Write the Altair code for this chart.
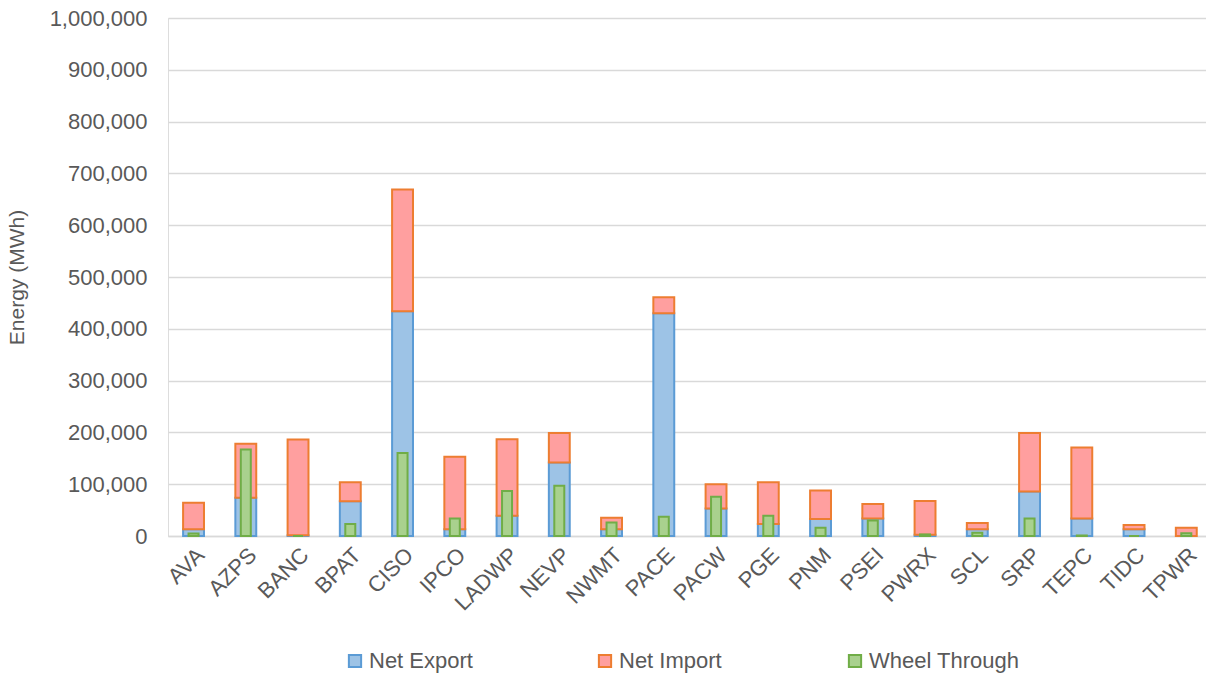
import altair as alt
import pandas as pd

regions = ["AVA", "AZPS", "BANC", "BPAT", "CISO", "IPCO", "LADWP", "NEVP", "NWMT", "PACE",
           "PACW", "PGE", "PNM", "PSEI", "PWRX", "SCL", "SRP", "TEPC", "TIDC", "TPWR"]
net_export = [13000, 74000, 1500, 67000, 434000, 13000, 39000, 142000, 13000, 430000,
              53000, 23000, 33000, 34000, 2500, 13000, 86000, 34000, 13000, 0]
net_import = [51000, 104000, 185000, 37000, 235000, 140000, 148000, 57000, 22000, 31000,
              47000, 81000, 55000, 28000, 65000, 12000, 113000, 137000, 8000, 16000]
wheel_through = [5000, 167000, 0, 23000, 160000, 34000, 87000, 97000, 26000, 37000,
                 76000, 39000, 16000, 30000, 3000, 6500, 34000, 1000, 0, 5500]

series = ["Net Export", "Net Import", "Wheel Through"]
fills = ["#9DC3E6", "#FF9F9F", "#A9D18E"]
strokes = ["#5B9BD5", "#ED7D31", "#70AD47"]

rows = []
for i, r in enumerate(regions):
    rows.append({"Region": r, "Series": "Net Export", "Value": net_export[i], "Order": 0})
    rows.append({"Region": r, "Series": "Net Import", "Value": net_import[i], "Order": 1})
stack_df = pd.DataFrame(rows)
wheel_df = pd.DataFrame({"Region": regions, "Series": "Wheel Through", "Value": wheel_through})

FONT = "Liberation Sans"
TXT = "#595959"
FS = 22

color = alt.Color("Series:N",
                  scale=alt.Scale(domain=series, range=fills),
                  legend=alt.Legend(title=None, orient="none", legendX=176, legendY=632,
                                    direction="horizontal",
                                    symbolType="square", symbolSize=150, symbolStrokeWidth=2,
                                    labelFontSize=FS, labelFont=FONT, labelColor=TXT,
                                    gridAlign="all", columnPadding=74,
                                    labelOffset=3))
stroke = alt.Stroke("Series:N", scale=alt.Scale(domain=series, range=strokes), legend=None)

x = alt.X("Region:N", sort=regions, title=None,
          scale=alt.Scale(paddingInner=0.6, paddingOuter=0.233, align=0.62),
          axis=alt.Axis(labelAngle=-45, labelFontSize=FS, labelFont=FONT, labelColor=TXT,
                        ticks=False, grid=False, domainColor="#D9D9D9", domainWidth=1.5,
                        labelPadding=8))
y_axis = alt.Axis(values=list(range(0, 1000001, 100000)), format=",.0f", labelFontSize=FS,
                  labelFont=FONT, labelColor=TXT, titleFontSize=FS - 1, titleFont=FONT,
                  titleColor=TXT, titleFontWeight="normal", title="Energy (MWh)",
                  ticks=False, domain=False, domainOpacity=0, gridColor="#D9D9D9",
                  gridWidth=1.5, labelPadding=21, titlePadding=22)
y = alt.Y("Value:Q", stack="zero", scale=alt.Scale(domain=[0, 1000000]), axis=y_axis)

bars = alt.Chart(stack_df).mark_bar(strokeWidth=2).encode(
    x=x,
    y=y,
    color=color,
    stroke=stroke,
    order=alt.Order("Order:Q"),
)

wheel = alt.Chart(wheel_df).mark_bar(size=10, strokeWidth=2).encode(
    x=x,
    y=y,
    color=color,
    stroke=stroke,
)

chart = alt.layer(bars, wheel).properties(
    width=1038, height=518,
    padding={"left": 6, "top": 7, "right": 0, "bottom": 5},
).configure_view(stroke="transparent", strokeWidth=0).configure_axisY(
    domain=False, domainOpacity=0
).configure_axisX(grid=False).configure(background="white")

chart.save("out.html", embed_options={"renderer": "svg", "actions": False})
